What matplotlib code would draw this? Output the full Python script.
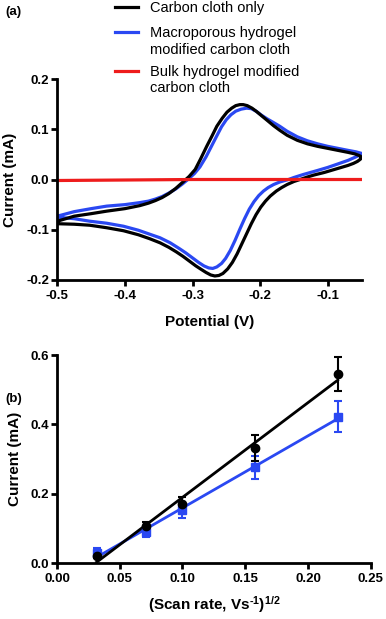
import matplotlib
matplotlib.use("Agg")
import matplotlib.pyplot as plt
from matplotlib.lines import Line2D
import numpy as np

plt.rcParams['font.family'] = ['Liberation Sans', 'DejaVu Sans']
plt.rcParams['axes.unicode_minus'] = False
plt.rcParams['mathtext.fontset'] = 'custom'
plt.rcParams['mathtext.rm'] = 'Liberation Sans:bold'
plt.rcParams['mathtext.bf'] = 'Liberation Sans:bold'
plt.rcParams['mathtext.it'] = 'Liberation Sans:bold'
plt.rcParams['mathtext.default'] = 'bf'

# ---------------- data (a) ----------------
series_names = ["Carbon cloth only",
                "Macroporous hydrogel\nmodified carbon cloth",
                "Bulk hydrogel modified\ncarbon cloth"]
series_colors = ["#000000", "#2a48f2", "#ee1c1c"]

cloth_E = [-0.500, -0.475, -0.450, -0.427, -0.400, -0.378, -0.365, -0.355, -0.345, -0.335,
           -0.325, -0.315, -0.305, -0.296, -0.288, -0.279, -0.271, -0.264, -0.256, -0.249,
           -0.242, -0.236, -0.230, -0.225, -0.219, -0.212, -0.205, -0.197, -0.188, -0.180,
           -0.171, -0.160, -0.145, -0.130, -0.115, -0.100, -0.085, -0.070, -0.060, -0.054,
           -0.051, -0.050,
           -0.052, -0.056, -0.062, -0.070, -0.080, -0.090, -0.105, -0.120, -0.130, -0.141,
           -0.150, -0.160, -0.168, -0.176, -0.185, -0.192, -0.199, -0.206, -0.213, -0.220,
           -0.227, -0.234, -0.241, -0.248, -0.255, -0.261, -0.267, -0.273, -0.280, -0.287,
           -0.295, -0.304, -0.314, -0.324, -0.335, -0.348, -0.363, -0.380, -0.402, -0.427,
           -0.452, -0.475, -0.500, -0.500]
cloth_I = [-0.083, -0.073, -0.068, -0.063, -0.058, -0.052, -0.047, -0.042, -0.036, -0.028,
           -0.018, -0.006, 0.006, 0.020, 0.041, 0.066, 0.087, 0.106, 0.122, 0.134,
           0.142, 0.147, 0.149, 0.149, 0.147, 0.142, 0.135, 0.126, 0.116, 0.107,
           0.098, 0.088, 0.078, 0.071, 0.066, 0.062, 0.058, 0.054, 0.051, 0.048,
           0.046, 0.043,
           0.040, 0.036, 0.032, 0.028, 0.024, 0.020, 0.014, 0.009, 0.005, 0.000,
           -0.004, -0.010, -0.016, -0.023, -0.033, -0.043, -0.055, -0.070, -0.088, -0.108,
           -0.128, -0.148, -0.165, -0.178, -0.187, -0.191, -0.192, -0.190, -0.185, -0.179,
           -0.172, -0.163, -0.153, -0.144, -0.135, -0.126, -0.118, -0.110, -0.102, -0.096,
           -0.091, -0.089, -0.088, -0.083]

macro_E = [-0.500, -0.475, -0.450, -0.427, -0.400, -0.378, -0.365, -0.355, -0.345, -0.335,
           -0.325, -0.315, -0.306, -0.297, -0.289, -0.280, -0.272, -0.264, -0.257, -0.250,
           -0.243, -0.236, -0.228, -0.220, -0.213, -0.206, -0.198, -0.190, -0.181, -0.171,
           -0.160, -0.145, -0.130, -0.115, -0.100, -0.085, -0.070, -0.058, -0.050,
           -0.052, -0.060, -0.070, -0.087, -0.100, -0.115, -0.136, -0.150, -0.158, -0.171,
           -0.180, -0.188, -0.195, -0.202, -0.209, -0.216, -0.223, -0.230, -0.237, -0.244,
           -0.251, -0.257, -0.264, -0.270, -0.276, -0.283, -0.291, -0.300, -0.310, -0.320,
           -0.333, -0.348, -0.363, -0.380, -0.402, -0.427, -0.452, -0.475, -0.500, -0.500]
macro_I = [-0.073, -0.064, -0.058, -0.053, -0.050, -0.046, -0.043, -0.039, -0.034, -0.027,
           -0.019, -0.009, 0.001, 0.012, 0.025, 0.045, 0.066, 0.087, 0.105, 0.119,
           0.129, 0.136, 0.140, 0.142, 0.141, 0.136, 0.128, 0.121, 0.114, 0.106,
           0.096, 0.085, 0.077, 0.071, 0.066, 0.062, 0.058, 0.055, 0.052,
           0.049, 0.044, 0.038, 0.030, 0.024, 0.018, 0.010, 0.004, 0.000, -0.005,
           -0.010, -0.016, -0.023, -0.032, -0.044, -0.059, -0.078, -0.099, -0.121, -0.141,
           -0.157, -0.167, -0.174, -0.177, -0.176, -0.172, -0.165, -0.156, -0.146, -0.137,
           -0.126, -0.116, -0.109, -0.101, -0.093, -0.087, -0.083, -0.078, -0.075, -0.073]

bulk_E = [-0.500, -0.400, -0.300, -0.200, -0.100, -0.050]
bulk_I = [-0.002, -0.001, 0.000, 0.000, 0.000, 0.000]

# ---------------- data (b) ----------------
scan_x = [0.0316, 0.0707, 0.1000, 0.1581, 0.2236]
cloth_peak = [0.021, 0.108, 0.171, 0.331, 0.545]
cloth_err = [0.006, 0.011, 0.020, 0.038, 0.050]
macro_peak = [0.028, 0.090, 0.153, 0.276, 0.422]
macro_err = [0.015, 0.016, 0.022, 0.033, 0.044]

a_xticks = [-0.5, -0.4, -0.3, -0.2, -0.1]
a_yticks = [-0.2, -0.1, 0.0, 0.1, 0.2]
b_xticks = [0.00, 0.05, 0.10, 0.15, 0.20, 0.25]
b_yticks = [0.0, 0.2, 0.4, 0.6]

W, H = 386, 619
fig = plt.figure(figsize=(W / 100, H / 100), dpi=100)

TICK_FS = 9.5
LABEL_FS = 11

def style(ax):
    for s in ['top', 'right']:
        ax.spines[s].set_visible(False)
    for s in ['left', 'bottom']:
        ax.spines[s].set_linewidth(2.0)
    ax.tick_params(axis='both', width=2.0, length=4.5, labelsize=TICK_FS, direction='out')
    ax.tick_params(axis='y', pad=1.5)
    ax.tick_params(axis='x', pad=3.0)
    for lab in ax.get_xticklabels() + ax.get_yticklabels():
        lab.set_fontweight('bold')

# ---- panel (a)
ax1 = fig.add_axes([57.3 / W, 1 - 280 / H, (361.5 - 57.3) / W, (280 - 79) / H])
ax1.plot(macro_E, macro_I, color=series_colors[1], lw=2.3, solid_joinstyle='round')
ax1.plot(cloth_E, cloth_I, color=series_colors[0], lw=2.3, solid_joinstyle='round')
ax1.plot(bulk_E, bulk_I, color=series_colors[2], lw=2.3)
ax1.set_xlim(-0.5, -0.05)
ax1.set_ylim(-0.2, 0.2)
ax1.set_xticks(a_xticks)
ax1.set_yticks(a_yticks)
ax1.set_xticklabels([f"{v:.1f}" for v in a_xticks])
ax1.set_yticklabels([f"{v:.1f}" for v in a_yticks])
style(ax1)
ax1.set_xlabel("Potential (V)", fontsize=LABEL_FS, fontweight='bold', va='top')
ax1.xaxis.set_label_coords(0.5, -(315 - 280) / (280 - 79))
ax1.set_ylabel("Current (mA)", fontsize=LABEL_FS, fontweight='bold')
ax1.yaxis.set_label_coords(-(57.3 - 17) / (361.5 - 57.3), 0.5)

# ---- panel (b)
ax2 = fig.add_axes([57.0 / W, 1 - 563 / H, (370.7 - 57.0) / W, (563 - 355) / H])
xs = np.array(scan_x)
for yv, ev, col, mk, ms in [(macro_peak, macro_err, series_colors[1], 's', 5.5),
                            (cloth_peak, cloth_err, series_colors[0], 'o', 6.0)]:
    k, b = np.polyfit(xs, yv, 1)
    ax2.plot([xs[0], xs[-1]], [k * xs[0] + b, k * xs[-1] + b], color=col, lw=2.0)
    ax2.errorbar(xs, yv, yerr=ev, fmt=mk, color=col, ms=ms, capsize=3.2,
                 elinewidth=1.5, capthick=1.5, clip_on=False)
ax2.set_xlim(0, 0.25)
ax2.set_ylim(0, 0.6)
ax2.set_xticks(b_xticks)
ax2.set_yticks(b_yticks)
ax2.set_xticklabels([f"{v:.2f}" for v in b_xticks])
ax2.set_yticklabels([f"{v:.1f}" for v in b_yticks])
style(ax2)
ax2.set_xlabel(r"(Scan rate, Vs$^{\text{-}1}$)$^{1/2}$", fontsize=LABEL_FS,
               fontweight='bold', va='top')
ax2.xaxis.set_label_coords(0.5, -(594 - 563) / (563 - 355))
ax2.set_ylabel("Current (mA)", fontsize=LABEL_FS, fontweight='bold')
ax2.yaxis.set_label_coords(-(57.0 - 22) / (370.7 - 57.0), 0.5)

# ---- legend (manual, figure coordinates)
leg_line_y = [6.5, 32, 70.5]
leg_text_y = [[8], [33, 50], [72, 88.5]]
for name, col, ly, tys in zip(series_names, series_colors, leg_line_y, leg_text_y):
    fig.add_artist(Line2D([115 / W, 138 / W], [1 - ly / H, 1 - ly / H], color=col, lw=2.3))
    for line, ty in zip(name.split("\n"), tys):
        fig.text(150 / W, 1 - ty / H, line, fontsize=10.5, va='center', ha='left')

fig.text(5 / W, 1 - 12 / H, "(a)", fontsize=9.5, fontweight='bold', va='center')
fig.text(5 / W, 1 - 399 / H, "(b)", fontsize=9.5, fontweight='bold', va='center')

fig.savefig("out.png", dpi=100)
